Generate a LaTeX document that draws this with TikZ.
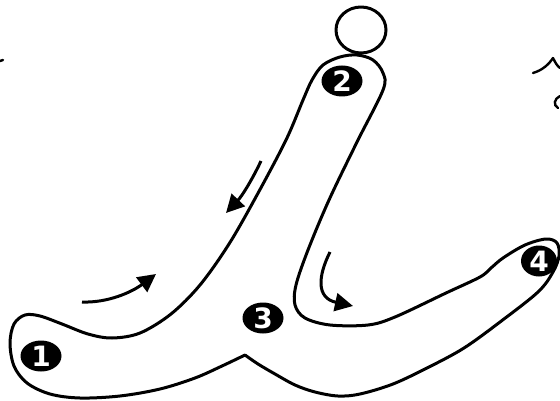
\documentclass[tikz,border=0pt]{standalone}
\usepackage{fontspec}
\setsansfont{DejaVu Sans}
\usetikzlibrary{arrows.meta,shapes.geometric}
\begin{document}
\begin{tikzpicture}[x=0.5pt,y=-0.5pt,
  outline/.style={line width=1.5pt, line join=round, line cap=round},
  flowarrow/.style={line width=1.5pt, -{Triangle[length=9pt,width=9pt]}},
  marker/.style={ellipse, fill=black, draw=none, inner sep=0pt,
    minimum width=20.5pt, minimum height=15.5pt, text=white,
    font=\sffamily\bfseries\fontsize{14}{14}\selectfont},
  scribble/.style={line width=1.2pt, line cap=round}]
\fill[white] (0,0) rectangle (560,400);
\useasboundingbox (0,0) rectangle (560,400);

% dot of the letter
\draw[outline] (361,30) ellipse [x radius=25, y radius=23];

% letter outline
\draw[outline] plot[smooth, tension=0.55] coordinates {
  (245,355) (222,366) (195,378) (160,389) (120,396) (80,398) (50,394)
  (27,383) (14,366) (10,343) (14,324) (25,315) (40,316) (62,324)
  (88,334) (112,338) (140,333) (171,314) (200,285) (229,244)
  (257,195) (286,140) (303,100) (312,80) (323,65) (340,57) (357,55)
  (373,60) (383,73) (383,90) (357,142) (329,200) (308,250)
  (296,285) (295,305) (305,318) (330,325) (368,325) (395,317)
  (446,293) (480,277) (491,268) (503,258) (525,245) (546,239)
  (557,243) (559,256) (553,272) (538,292) (500,322) (464,348)
  (429,367) (393,384) (360,394) (338,396) (315,392) (295,385)
  (275,374) (258,364) (245,355)};

% markers
\node[marker] (m1) at (41,356) {1};
\node[marker] (m2) at (342,81) {2};
\node[marker] (m3) at (263,318) {3};
\node[marker, minimum width=18pt] (m4) at (539,261) {4};

% direction arrows
\draw[flowarrow] (82,302) .. controls (108,303) and (132,292) .. (156,274);
\draw[flowarrow] (261,161) .. controls (252,180) and (242,196) .. (226,213);
\draw[flowarrow] (330,252) .. controls (318,276) and (316,298) .. (353,306);

% cut-off marks at the edges
\draw[scribble] (0,61) -- (3,60);
\draw[scribble] (533,73) .. controls (543,70) and (549,64) .. (553,58);
\draw[scribble] (553,58) .. controls (555,62) and (557,66) .. (560,68);
\draw[scribble] (560,96) .. controls (554,99) and (553,105) .. (558,108);
\end{tikzpicture}
\end{document}
